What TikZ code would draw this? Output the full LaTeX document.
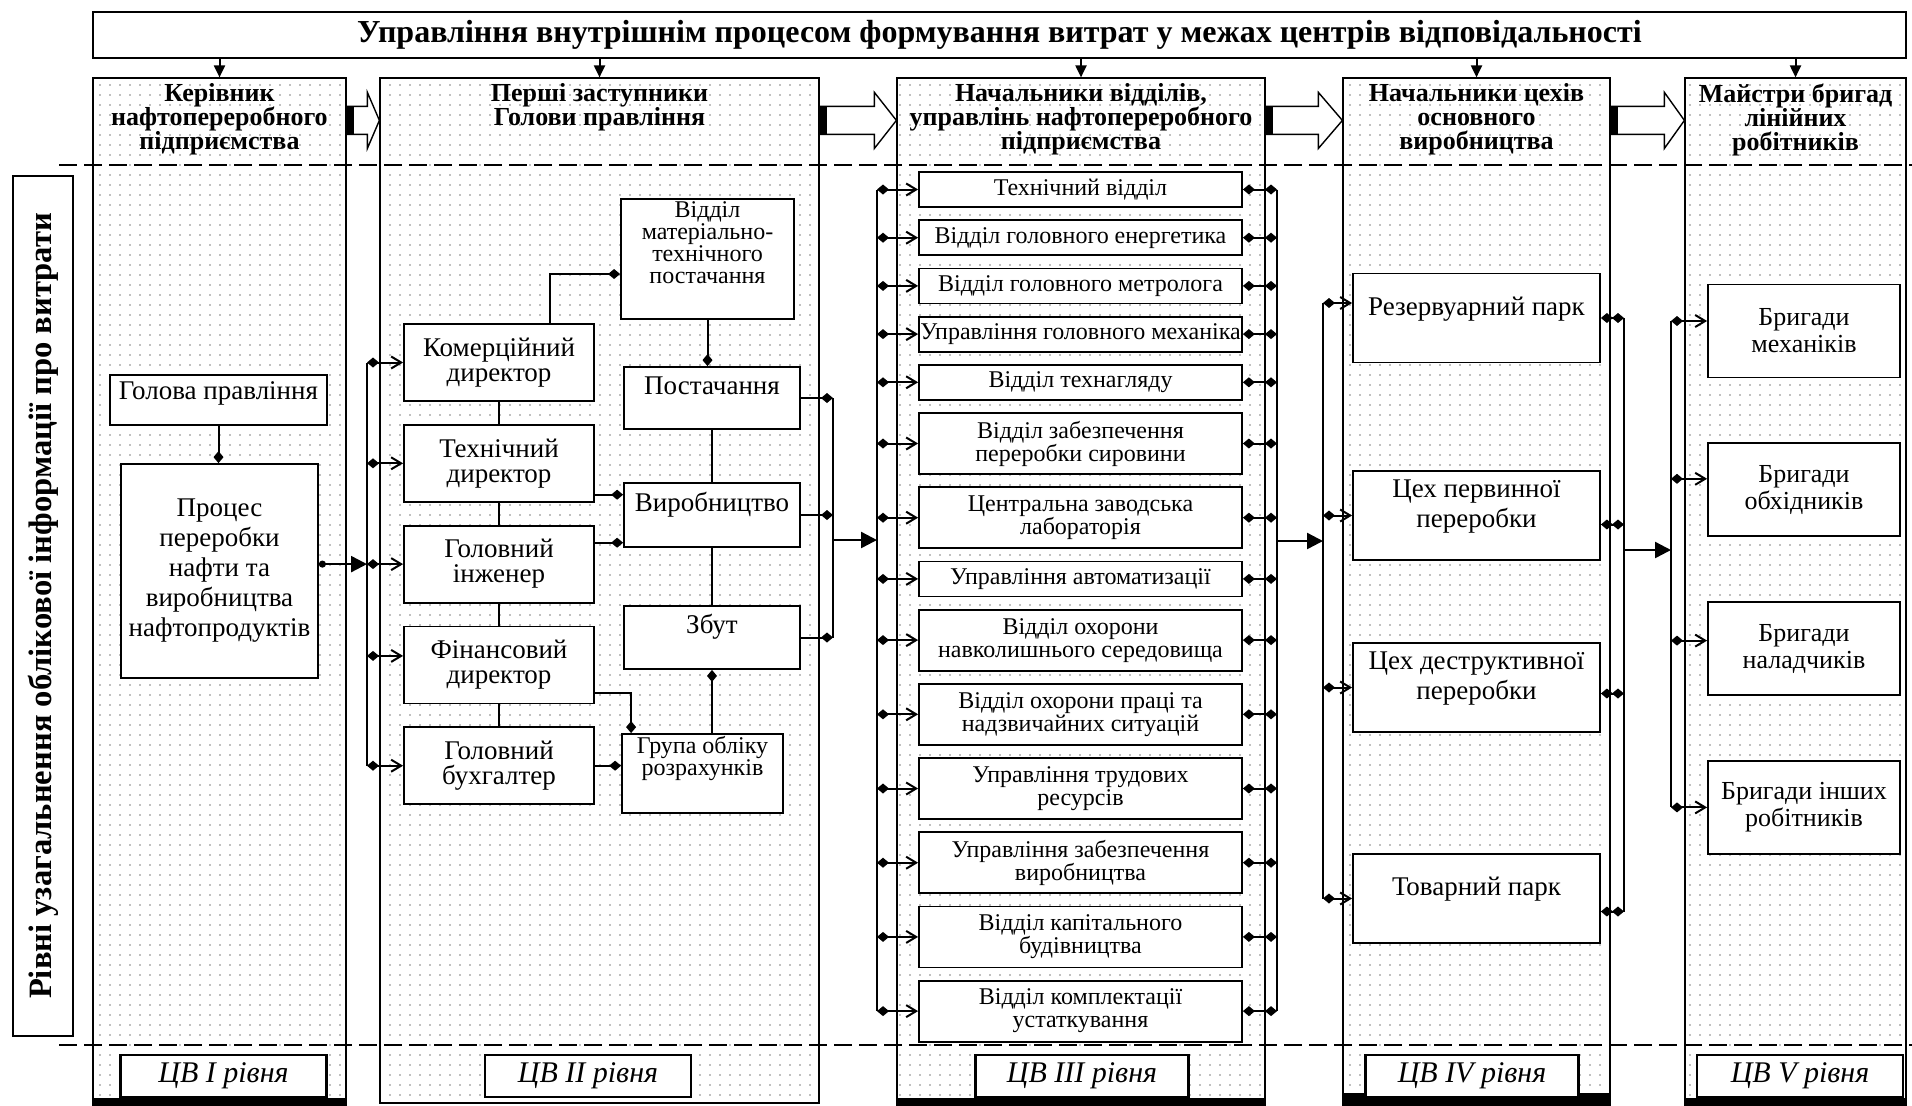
\documentclass[tikz,border=0pt]{standalone}
\usepackage{fontspec}
\setmainfont{Liberation Serif}
\usetikzlibrary{positioning,calc,arrows.meta,patterns.meta}
\lineskiplimit=-20pt

\tikzset{
  column/.style={draw, line width=0.6pt, inner sep=0pt, pattern={Dots[distance=5pt,radius=0.45pt]}, pattern color=black!50},
  headtext/.style={align=center, inner sep=0pt, font=\bfseries\fontsize{13}{12}\selectfont},
  box/.style={draw, line width=0.9pt, fill=white, align=center, inner sep=1pt},
  bigfont/.style={font=\fontsize{13.5}{15}\selectfont},
  midfont/.style={font=\fontsize{13.5}{12.5}\selectfont},
  smallfont/.style={font=\fontsize{12}{11}\selectfont},
  chiefbox/.style={box, midfont, minimum width=95pt, minimum height=38.5pt},
  servbox/.style={box, midfont, minimum width=88pt, minimum height=31pt, text height=9pt, text depth=13pt},
  deptbox/.style={box, font=\fontsize{12}{11.5}\selectfont, minimum width=161.5pt, inner xsep=0.5pt},
  deptone/.style={deptbox, minimum height=17.5pt},
  depttwo/.style={deptbox, minimum height=30.5pt},
  shopbox/.style={box, bigfont, minimum width=123.5pt, minimum height=44.5pt},
  crewbox/.style={box, font=\fontsize{13}{13.5}\selectfont, minimum width=96pt, minimum height=46.5pt},
  cvbox/.style={box, line width=1.2pt, minimum width=103pt, minimum height=21pt, font=\itshape\fontsize{15}{17}\selectfont},
  levelline/.style={line width=1pt, dash pattern=on 9pt off 3.5pt},
  busline/.style={line width=1pt},
  feed/.style={line width=1pt, {Diamond[length=6pt,width=5pt]}-{Straight Barb[length=5pt,width=6pt]}},
  tie/.style={line width=1pt, {Diamond[length=6pt,width=5pt]}-{Diamond[length=6pt,width=5pt]}},
  joinend/.style={line width=1pt, -{Diamond[length=6pt,width=5pt]}},
  joinstart/.style={line width=1pt, {Diamond[length=6pt,width=5pt]}-},
  bigarrow/.style={line width=1.2pt, -{Triangle[length=8pt,width=8pt]}},
  bigfeed/.style={line width=1.2pt, {Circle[length=3.5pt]}-{Triangle[length=8pt,width=8pt]}},
  toparrow/.style={line width=1pt, -{Triangle[length=6pt,width=5.5pt]}}
}

% hollow block arrow between two columns: tail, tip, head length
\newcommand{\blockarrow}[3]{%
  \draw[line width=0.7pt, fill=white] ($(#1)+(0,-14)$) -- ($(#2)+(-#3,-14)$) -- ($(#2)+(-#3,-28)$) -- (#2)
    -- ($(#2)+(-#3,28)$) -- ($(#2)+(-#3,14)$) -- ($(#1)+(0,14)$) -- cycle;
  \fill ($(#1)+(0,-14)$) rectangle ($(#1)+(7,14)$);}

\begin{document}
\begin{tikzpicture}[x=0.5pt, y=-0.5pt]
\useasboundingbox (0,0) rectangle (1912,1105);

% bus coordinates
\coordinate (bus2l) at (367,0);
\coordinate (bus2r) at (833,0);
\coordinate (bus3l) at (877,0);
\coordinate (bus3r) at (1277,0);
\coordinate (bus4l) at (1323,0);
\coordinate (bus4r) at (1624,0);
\coordinate (bus5l) at (1671,0);

% columns
\node (col1) [column, minimum width=126.5pt, minimum height=510.5pt] at (219.5,588.5) {};
\node (col2) [column, minimum width=219.5pt, minimum height=512.5pt] at (599.5,590.5) {};
\node (col3) [column, minimum width=184pt, minimum height=510.5pt] at (1081,588.5) {};
\node (col4) [column, minimum width=133.5pt, minimum height=510.5pt] at (1476.5,588.5) {};
\node (col5) [column, minimum width=110.5pt, minimum height=510.5pt] at (1795.5,588.5) {};
\fill (col1.south west) rectangle ([yshift=-3pt]col1.south east);
\fill (col3.south west) rectangle ([yshift=-3pt]col3.south east);
\fill ([yshift=3.5pt]col4.south west) rectangle ([yshift=-3pt]col4.south east);
\fill (col5.south west) rectangle ([yshift=-3pt]col5.south east);

% title
\node (title) [box, line width=1pt, minimum width=906.5pt, minimum height=23pt, font=\bfseries\fontsize{16}{18}\selectfont] at (999.5,35) {Управління внутрішнім процесом формування витрат у межах центрів відповідальності};
\draw[toparrow] (title.south -| col1.north) -- (col1.north);
\draw[toparrow] (title.south -| col2.north) -- (col2.north);
\draw[toparrow] (title.south -| col3.north) -- (col3.north);
\draw[toparrow] (title.south -| col4.north) -- (col4.north);
\draw[toparrow] (title.south -| col5.north) -- (col5.north);

% headers
\node (head1) [headtext, below=3pt of col1.north] {Керівник\\нафтопереробного\\підприємства};
\node (head2) [headtext, below=3pt of col2.north] {Перші заступники\\Голови правління};
\node (head3) [headtext, below=3pt of col3.north] {Начальники відділів,\\управлінь нафтопереробного\\підприємства};
\node (head4) [headtext, below=3pt of col4.north] {Начальники цехів\\основного\\виробництва};
\node (head5) [headtext, below=3pt of col5.north] {Майстри бригад\\лінійних\\робітників};

% block arrows between columns
\coordinate (a1t) at ($(col1.north east)+(0,43)$);
\coordinate (a1h) at ($(col2.north west)+(0,43)$);
\coordinate (a2t) at ($(col2.north east)+(0,43)$);
\coordinate (a2h) at ($(col3.north west)+(0,43)$);
\coordinate (a3t) at ($(col3.north east)+(0,43)$);
\coordinate (a3h) at ($(col4.north west)+(0,43)$);
\coordinate (a4t) at ($(col4.north east)+(0,43)$);
\coordinate (a4h) at ($(col5.north west)+(0,43)$);
\blockarrow{a1t}{a1h}{12}
\blockarrow{a2t}{a2h}{22}
\blockarrow{a3t}{a3h}{24}
\blockarrow{a4t}{a4h}{20}

% level lines
\draw[levelline] (59,165) -- (1912,165);
\draw[levelline] (59,1045) -- (1912,1045);

% side label
\node (levels) [box, rotate=90, minimum width=430pt, minimum height=30pt, font=\bfseries\fontsize{16.3}{18}\selectfont] at (43,606) {Рівні узагальнення облікової інформації про витрати};

% level I
\node (golova) [box, bigfont, minimum width=108.5pt, minimum height=25pt, text height=9pt, text depth=10pt] at (218.5,400) {Голова правління};
\node (proc) [box, bigfont, minimum width=98.5pt, minimum height=107pt] at (219.5,571) {Процес\\переробки\\нафти та\\виробництва\\нафтопродуктів};

% level II
\node (kom) [chiefbox] at (499,362.5) {Комерційний\\директор};
\node (teh) [chiefbox, below=11pt of kom] {Технічний\\директор};
\node (inzh) [chiefbox, below=11pt of teh] {Головний\\інженер};
\node (fin) [chiefbox, below=11pt of inzh] {Фінансовий\\директор};
\node (buh) [chiefbox, below=11pt of fin] {Головний\\бухгалтер};
\node (mtp) [box, smallfont, minimum width=86.5pt, minimum height=60pt, text depth=16.5pt] at (707.5,259) {Відділ\\матеріально-\\технічного\\постачання};
\node (post) [servbox] at (712,398) {Постачання};
\node (vyr) [servbox, minimum height=32pt] at (712,515) {Виробництво};
\node (zbut) [servbox, minimum height=31.5pt] at (712,637.5) {Збут};
\node (grupa) [box, smallfont, minimum width=80.5pt, minimum height=39.5pt, text depth=17.5pt] at (702.5,773.5) {Група обліку\\розрахунків};

% level III
\node (d1) [deptone] at (1080.5,189.5) {Технічний відділ};
\node (d2) [deptone, below=5.7pt of d1] {Відділ головного енергетика};
\node (d3) [deptone, below=5.7pt of d2] {Відділ головного метролога};
\node (d4) [deptone, below=5.7pt of d3] {Управління головного механіка};
\node (d5) [deptone, below=5.7pt of d4] {Відділ технагляду};
\node (d6) [depttwo, below=5.7pt of d5] {Відділ забезпечення\\переробки сировини};
\node (d7) [depttwo, below=5.7pt of d6] {Центральна заводська\\лабораторія};
\node (d8) [deptone, below=5.7pt of d7] {Управління автоматизації};
\node (d9) [depttwo, below=5.7pt of d8] {Відділ охорони\\навколишнього середовища};
\node (d10) [depttwo, below=5.7pt of d9] {Відділ охорони праці та\\надзвичайних ситуацій};
\node (d11) [depttwo, below=5.7pt of d10] {Управління трудових\\ресурсів};
\node (d12) [depttwo, below=5.7pt of d11] {Управління забезпечення\\виробництва};
\node (d13) [depttwo, below=5.7pt of d12] {Відділ капітального\\будівництва};
\node (d14) [depttwo, below=5.7pt of d13] {Відділ комплектації\\устаткування};

% level IV
\node (rez) [shopbox, text height=9pt, text depth=12pt] at (1476.5,318) {Резервуарний парк};
\node (ceh1) [shopbox, text depth=12pt] at (1476.5,515.5) {Цех первинної\\переробки};
\node (ceh2) [shopbox, text depth=12pt] at (1476.5,687.5) {Цех деструктивної\\переробки};
\node (tov) [shopbox, text height=9pt, text depth=12pt] at (1476.5,898.5) {Товарний парк};

% level V
\node (mech) [crewbox] at (1804,331) {Бригади\\механіків};
\node (obh) [crewbox, below=32pt of mech] {Бригади\\обхідників};
\node (nal) [crewbox, below=32pt of obh] {Бригади\\наладчиків};
\node (inshi) [crewbox, below=32pt of nal] {Бригади інших\\робітників};

% centre labels
\node (cv1) [cvbox] at (223.5,1076) {ЦВ I рівня};
\node (cv2) [cvbox] at (588,1076) {ЦВ II рівня};
\node (cv3) [cvbox, minimum width=106.5pt] at (1082,1076) {ЦВ III рівня};
\node (cv4) [cvbox, minimum width=106.5pt] at (1472,1076) {ЦВ IV рівня};
\node (cv5) [cvbox] at (1800,1076) {ЦВ V рівня};

% links, level I
\draw[joinend] (golova.south) -- (golova.south |- proc.north);
\draw[bigfeed] (proc.east |- inzh.west) -- (bus2l |- inzh.west);

% links, level II
\coordinate (finin) at ([yshift=4.5pt]fin.west);
\draw[busline] (bus2l |- kom.west) -- (bus2l |- buh.west);
\draw[feed] (bus2l |- kom.west) -- (kom.west);
\draw[feed] (bus2l |- teh.west) -- (teh.west);
\draw[feed] (bus2l |- inzh.west) -- (inzh.west);
\draw[feed] (bus2l |- finin) -- (finin);
\draw[feed] (bus2l |- buh.west) -- (buh.west);
\draw[busline] (kom.south) -- (teh.north);
\draw[busline] (teh.south) -- (inzh.north);
\draw[busline] (inzh.south) -- (fin.north);
\draw[busline] (fin.south) -- (buh.north);
\draw[joinend] ($(kom.north)+(51,0)$) |- ($(mtp.west)+(0,15)$);
\draw[joinend] (mtp.south) -- (mtp.south |- post.north);
\draw[busline] (post.south) -- (vyr.north);
\draw[busline] (vyr.south) -- (zbut.north);
\draw[joinstart] (zbut.south) -- (zbut.south |- grupa.north);
\coordinate (tehout) at ([yshift=4pt]teh.south east);
\draw[joinend] (tehout) -- (tehout -| vyr.west);
\coordinate (inzhout) at ([yshift=-9pt]inzh.north east);
\draw[joinend] (inzhout) -- (inzhout -| vyr.west);
\coordinate (finout) at ([yshift=5.5pt]fin.south east);
\draw[joinend] (finout) -| ([xshift=5pt]grupa.north west);
\draw[joinend] (buh.east) -- (buh.east -| grupa.west);
\draw[busline] (bus2r |- post.east) -- (bus2r |- zbut.east);
\draw[joinend] (post.east) -- (bus2r |- post.east);
\draw[joinend] (vyr.east) -- (bus2r |- vyr.east);
\draw[joinend] (zbut.east) -- (bus2r |- zbut.east);
\coordinate (link23) at (833,540);
\draw[bigarrow] (link23) -- (bus3l |- link23);

% links, level III
\draw[busline] (bus3l |- d1.west) -- (bus3l |- d14.west);
\draw[busline] (bus3r |- d1.east) -- (bus3r |- d14.east);
\draw[feed] (bus3l |- d1.west) -- (d1.west);
\draw[feed] (bus3l |- d2.west) -- (d2.west);
\draw[feed] (bus3l |- d3.west) -- (d3.west);
\draw[feed] (bus3l |- d4.west) -- (d4.west);
\draw[feed] (bus3l |- d5.west) -- (d5.west);
\draw[feed] (bus3l |- d6.west) -- (d6.west);
\draw[feed] (bus3l |- d7.west) -- (d7.west);
\draw[feed] (bus3l |- d8.west) -- (d8.west);
\draw[feed] (bus3l |- d9.west) -- (d9.west);
\draw[feed] (bus3l |- d10.west) -- (d10.west);
\draw[feed] (bus3l |- d11.west) -- (d11.west);
\draw[feed] (bus3l |- d12.west) -- (d12.west);
\draw[feed] (bus3l |- d13.west) -- (d13.west);
\draw[feed] (bus3l |- d14.west) -- (d14.west);
\draw[tie] (d1.east) -- (bus3r |- d1.east);
\draw[tie] (d2.east) -- (bus3r |- d2.east);
\draw[tie] (d3.east) -- (bus3r |- d3.east);
\draw[tie] (d4.east) -- (bus3r |- d4.east);
\draw[tie] (d5.east) -- (bus3r |- d5.east);
\draw[tie] (d6.east) -- (bus3r |- d6.east);
\draw[tie] (d7.east) -- (bus3r |- d7.east);
\draw[tie] (d8.east) -- (bus3r |- d8.east);
\draw[tie] (d9.east) -- (bus3r |- d9.east);
\draw[tie] (d10.east) -- (bus3r |- d10.east);
\draw[tie] (d11.east) -- (bus3r |- d11.east);
\draw[tie] (d12.east) -- (bus3r |- d12.east);
\draw[tie] (d13.east) -- (bus3r |- d13.east);
\draw[tie] (d14.east) -- (bus3r |- d14.east);
\coordinate (link34) at (1277,541);
\draw[bigarrow] (link34) -- (bus4l |- link34);

% links, level IV
\coordinate (rezin) at ([yshift=7.5pt]rez.west);
\coordinate (ceh1out) at ([yshift=-4.5pt]ceh1.east);
\coordinate (ceh2out) at ([yshift=-3pt]ceh2.east);
\coordinate (tovout) at ([yshift=-6.5pt]tov.east);
\draw[busline] (bus4l |- rezin) -- (bus4l |- tov.west);
\draw[feed] (bus4l |- rezin) -- (rezin);
\draw[feed] (bus4l |- ceh1.west) -- (ceh1.west);
\draw[feed] (bus4l |- ceh2.west) -- (ceh2.west);
\draw[feed] (bus4l |- tov.west) -- (tov.west);
\draw[busline] (bus4r |- rez.east) -- (bus4r |- tovout);
\draw[tie] (rez.east) -- (bus4r |- rez.east);
\draw[tie] (ceh1out) -- (bus4r |- ceh1out);
\draw[tie] (ceh2out) -- (bus4r |- ceh2out);
\draw[tie] (tovout) -- (bus4r |- tovout);
\coordinate (link45) at (1624,550);
\draw[bigarrow] (link45) -- (bus5l |- link45);

% links, level V
\coordinate (mechin) at ([yshift=5pt]mech.west);
\coordinate (obhin) at ([yshift=5.5pt]obh.west);
\coordinate (nalin) at ([yshift=4pt]nal.west);
\draw[busline] (bus5l |- mechin) -- (bus5l |- inshi.west);
\draw[feed] (bus5l |- mechin) -- (mechin);
\draw[feed] (bus5l |- obhin) -- (obhin);
\draw[feed] (bus5l |- nalin) -- (nalin);
\draw[feed] (bus5l |- inshi.west) -- (inshi.west);
\end{tikzpicture}
\end{document}
